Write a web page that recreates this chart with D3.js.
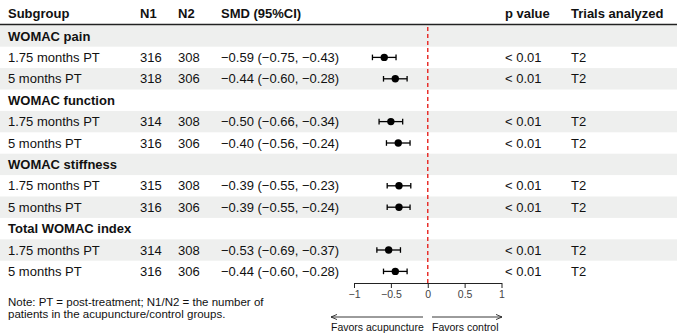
<!DOCTYPE html>
<html>
<head>
<meta charset="utf-8">
<script src="https://cdn.jsdelivr.net/npm/d3@7"></script>
<style>
  html, body { margin: 0; padding: 0; background: #fff; }
  #stage { width: 677px; height: 333px; }
  text { font-family: "Liberation Sans", Arial, sans-serif; fill: #111; }
</style>
</head>
<body>
<div id="stage"></div>
<script>
// rows of the table, in drawing order (null = group heading row)
const labels = [
  "WOMAC pain", "1.75 months PT", "5 months PT",
  "WOMAC function", "1.75 months PT", "5 months PT",
  "WOMAC stiffness", "1.75 months PT", "5 months PT",
  "Total WOMAC index", "1.75 months PT", "5 months PT"
];
const isGroup = [true, false, false, true, false, false, true, false, false, true, false, false];
const n1 = [null, 316, 318, null, 314, 316, null, 315, 316, null, 314, 316];
const n2 = [null, 308, 306, null, 308, 306, null, 308, 306, null, 308, 306];
const smd = [null, -0.59, -0.44, null, -0.50, -0.40, null, -0.39, -0.39, null, -0.53, -0.44];
const lower = [null, -0.75, -0.60, null, -0.66, -0.56, null, -0.55, -0.55, null, -0.69, -0.60];
const upper = [null, -0.43, -0.28, null, -0.34, -0.24, null, -0.23, -0.24, null, -0.37, -0.28];
const pvals = [null, "< 0.01", "< 0.01", null, "< 0.01", "< 0.01", null, "< 0.01", "< 0.01", null, "< 0.01", "< 0.01"];
const trials = [null, "T2", "T2", null, "T2", "T2", null, "T2", "T2", null, "T2", "T2"];
const xTicks = [-1, -0.5, 0, 0.5, 1];

const width = 677;
const height = 333;

const svg = d3.select("#stage")
  .append("svg")
  .attr("width", width)
  .attr("height", height)
  .attr("viewBox", `0 0 ${width} ${height}`);

const rows = d3.range(labels.length);

const y = d3.scaleBand()
  .domain(rows)
  .range([25.3, 282.1])
  .padding(0);

const x = d3.scaleLinear()
  .domain([-1, 1])
  .range([354, 501.5]);

const col = { sub: 8, n1: 140, n2: 178, smd: 221, p: 505, trials: 571 };
const fmt = d3.format(".2f");

// zebra shading
svg.append("g")
  .selectAll("rect")
  .data(rows.filter(i => i % 2 === 0))
  .join("rect")
  .attr("x", 0)
  .attr("y", i => y(i))
  .attr("width", width)
  .attr("height", y.bandwidth())
  .attr("fill", "#eeefee");

// header
const header = svg.append("g").attr("font-weight", "bold").attr("font-size", 13);
[["Subgroup", col.sub], ["N1", col.n1], ["N2", col.n2], ["SMD (95%CI)", col.smd],
 ["p value", col.p], ["Trials analyzed", col.trials]].forEach(([t, cx]) => {
  header.append("text")
    .attr("x", cx)
    .attr("y", 13.5)
    .attr("dy", "0.35em")
    .text(t);
});

svg.append("line")
  .attr("x1", 0)
  .attr("x2", width)
  .attr("y1", 24.5)
  .attr("y2", 24.5)
  .attr("stroke", "#222")
  .attr("stroke-width", 1.4);

// table text
const cell = (cx, accessor, bold) => {
  svg.append("g")
    .attr("font-size", 13)
    .attr("font-weight", bold ? "bold" : "normal")
    .selectAll("text")
    .data(rows.filter(i => accessor(i) != null))
    .join("text")
    .attr("x", cx)
    .attr("y", i => y(i) + y.bandwidth() / 2)
    .attr("dy", "0.35em")
    .text(accessor);
};

cell(col.sub, i => (isGroup[i] ? labels[i] : null), true);
cell(col.sub, i => (isGroup[i] ? null : labels[i]), false);
cell(col.n1, i => n1[i], false);
cell(col.n2, i => n2[i], false);
cell(col.smd, i => (smd[i] == null ? null :
  `${fmt(smd[i])} (${fmt(lower[i])}, ${fmt(upper[i])})`), false);
cell(col.p, i => pvals[i], false);
cell(col.trials, i => trials[i], false);

// reference line at 0
svg.append("line")
  .attr("x1", x(0))
  .attr("x2", x(0))
  .attr("y1", 27)
  .attr("y2", 283)
  .attr("stroke", "#e8302c")
  .attr("stroke-width", 1.5)
  .attr("stroke-dasharray", "4,3");

// estimates
const est = rows.filter(i => smd[i] != null);
const marks = svg.append("g");

marks.selectAll("line.ci")
  .data(est)
  .join("line")
  .attr("class", "ci")
  .attr("x1", i => x(lower[i]))
  .attr("x2", i => x(upper[i]))
  .attr("y1", i => y(i) + y.bandwidth() / 2)
  .attr("y2", i => y(i) + y.bandwidth() / 2)
  .attr("stroke", "#000")
  .attr("stroke-width", 1.3);

["lo", "hi"].forEach(side => {
  marks.selectAll(`line.cap-${side}`)
    .data(est)
    .join("line")
    .attr("class", `cap-${side}`)
    .attr("x1", i => x(side === "lo" ? lower[i] : upper[i]))
    .attr("x2", i => x(side === "lo" ? lower[i] : upper[i]))
    .attr("y1", i => y(i) + y.bandwidth() / 2 - 2.8)
    .attr("y2", i => y(i) + y.bandwidth() / 2 + 2.8)
    .attr("stroke", "#000")
    .attr("stroke-width", 1.3);
});

marks.selectAll("circle")
  .data(est)
  .join("circle")
  .attr("cx", i => x(smd[i]))
  .attr("cy", i => y(i) + y.bandwidth() / 2)
  .attr("r", 3.7)
  .attr("fill", "#000");

// axis
const axis = svg.append("g")
  .attr("transform", "translate(0,283)")
  .call(d3.axisBottom(x)
    .tickValues(xTicks)
    .tickSize(5)
    .tickSizeOuter(0)
    .tickPadding(2.5)
    .tickFormat(d3.format("~g")));

axis.select(".domain").attr("stroke", "#222");
axis.selectAll(".tick line").attr("stroke", "#222");
axis.selectAll(".tick text")
  .attr("font-family", "\"Liberation Sans\", Arial, sans-serif")
  .attr("font-size", 10.5)
  .style("fill", "#444");

// direction arrows
const defs = svg.append("defs");
defs.append("marker")
  .attr("id", "arrow")
  .attr("viewBox", "0 0 8 8")
  .attr("refX", 7)
  .attr("refY", 4)
  .attr("markerWidth", 7)
  .attr("markerHeight", 7)
  .attr("markerUnits", "userSpaceOnUse")
  .attr("orient", "auto")
  .append("path")
  .attr("d", "M0,1 L7,4 L0,7")
  .attr("fill", "none")
  .attr("stroke", "#222")
  .attr("stroke-width", 1);

svg.append("line")
  .attr("x1", 423).attr("x2", 331)
  .attr("y1", 317).attr("y2", 317)
  .attr("stroke", "#222").attr("stroke-width", 0.9)
  .attr("marker-end", "url(#arrow)");

svg.append("line")
  .attr("x1", 432).attr("x2", 502)
  .attr("y1", 317).attr("y2", 317)
  .attr("stroke", "#222").attr("stroke-width", 0.9)
  .attr("marker-end", "url(#arrow)");

svg.append("text")
  .attr("x", 331)
  .attr("y", 327.5)
  .attr("dy", "0.35em")
  .attr("font-size", 10.5)
  .text("Favors acupuncture");

svg.append("text")
  .attr("x", 432)
  .attr("y", 327.5)
  .attr("dy", "0.35em")
  .attr("font-size", 10.5)
  .text("Favors control");

// footnote
const note = svg.append("text")
  .attr("x", 8)
  .attr("y", 305.5)
  .attr("font-size", 11.5);
note.append("tspan").attr("x", 8).text("Note: PT = post-treatment; N1/N2 = the number of");
note.append("tspan").attr("x", 8).attr("dy", 12.5).text("patients in the acupuncture/control groups.");
</script>
</body>
</html>
